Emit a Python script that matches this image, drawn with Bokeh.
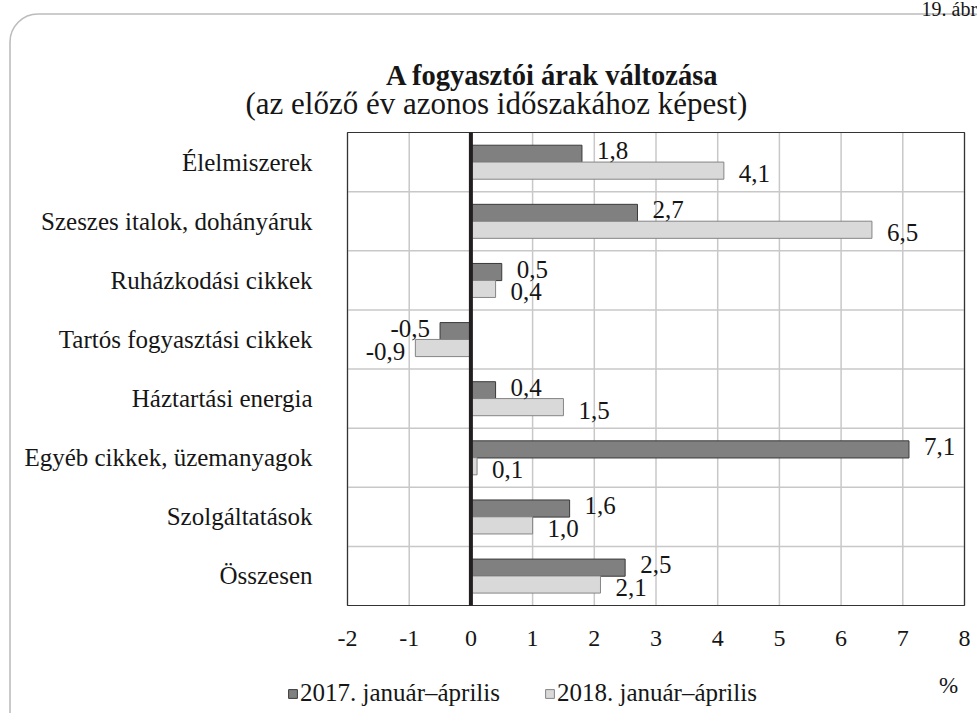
from bokeh.plotting import figure
from bokeh.models import (ColumnDataSource, LabelSet, Label, BoxAnnotation,
                          Legend, LegendItem, Range1d)
from bokeh.transform import dodge
from bokeh.core.properties import value
from bokeh.embed import file_html
from bokeh.resources import INLINE

# ---- data ----
categories = ["Élelmiszerek", "Szeszes italok, dohányáruk", "Ruházkodási cikkek",
              "Tartós fogyasztási cikkek", "Háztartási energia",
              "Egyéb cikkek, üzemanyagok", "Szolgáltatások", "Összesen"]
values_2017 = [1.8, 2.7, 0.5, -0.5, 0.4, 7.1, 1.6, 2.5]
values_2018 = [4.1, 6.5, 0.4, -0.9, 1.5, 0.1, 1.0, 2.1]
series_names = ["2017. január–április", "2018. január–április"]
x_ticks = [-2, -1, 0, 1, 2, 3, 4, 5, 6, 7, 8]
title_text = "A fogyasztói árak változása"
subtitle_text = "(az előző év azonos időszakához képest)"
unit_text = "%"
figure_no = "19. ábra"

FONT = "Liberation Serif"
INK = "#161616"
OFF = 0                      # canvas origin on the picture
W, H = 977, 713
FL, FR, FT, FB = 347, 964, 132, 605   # plot-area edges on the picture (px)

n = len(categories)
x0, x1 = x_ticks[0], x_ticks[-1]
kx = (FR - FL) / (x1 - x0)
ky = (FB - FT) / n

def X(sx):   # picture px -> data x
    return x0 + (sx - FL) / kx

def Y(sy):   # picture px -> data y
    return (FB - sy) / ky

p = figure(width=W, height=H, output_backend="svg", toolbar_location=None,
           x_range=Range1d(X(OFF), X(OFF + W)), y_range=Range1d(Y(OFF + H), Y(OFF)),
           x_axis_location=None, y_axis_location=None,
           min_border=0, background_fill_color="white", border_fill_color="white")
p.grid.visible = False
p.outline_line_color = None

pos = [n - i - 0.5 for i in range(n)]

def fmt(v):
    return f"{v:.1f}".replace(".", ",")

def mk(vals):
    return ColumnDataSource(dict(
        pos=pos, val=vals, txt=[fmt(v) for v in vals],
        xoff=[15 if v >= 0 else -10 for v in vals],
        align=["left" if v >= 0 else "right" for v in vals],
    ))

s17 = mk(values_2017)
s18 = mk(values_2018)

# grid
GRID = "#c8c8c8"
p.segment(x0=x_ticks, y0=[0] * len(x_ticks), x1=x_ticks, y1=[n] * len(x_ticks),
          line_color=GRID, line_width=1.5)
ygrid = list(range(1, n))
p.segment(x0=[x0] * len(ygrid), y0=ygrid, x1=[x1] * len(ygrid), y1=ygrid,
          line_color=GRID, line_width=1.5)
p.quad(left=x0, right=x1, bottom=0, top=n, fill_color=None,
       line_color="#333333", line_width=1.2)

# bars
bh = 0.29
r17 = p.hbar(y=dodge("pos", 0.14), left=0, right="val", height=bh, source=s17,
             fill_color="#808080", line_color="#3a3a3a", line_width=1)
r18 = p.hbar(y=dodge("pos", -0.145), left=0, right="val", height=bh, source=s18,
             fill_color="#d9d9d9", line_color="#858585", line_width=1)

# zero line
p.segment(x0=0, y0=0, x1=0, y1=n, line_color="#231f20", line_width=4)

# value labels
for src, off, yo in ((s17, 0.14, 3), (s18, -0.145, -3)):
    p.add_layout(LabelSet(x="val", y=dodge("pos", off), text="txt", source=src,
                          x_offset="xoff", y_offset=yo, text_align="align",
                          text_baseline="middle", text_font=value(FONT),
                          text_font_size="25px", text_color=INK))

# category labels
cat_src = ColumnDataSource(dict(x=[x0] * n, y=pos, t=categories))
p.add_layout(LabelSet(x="x", y="y", text="t", source=cat_src, x_offset=-35,
                      text_align="right", text_baseline="middle",
                      text_font=value(FONT), text_font_size="25px", text_color=INK))

# x tick labels
tick_src = ColumnDataSource(dict(x=x_ticks, y=[0] * len(x_ticks),
                                 t=[str(t) for t in x_ticks]))
p.add_layout(LabelSet(x="x", y="y", text="t", source=tick_src, y_offset=-33,
                      text_align="center", text_baseline="middle",
                      text_font=value(FONT), text_font_size="24px", text_color=INK))

# legend
legend = Legend(items=[LegendItem(label=series_names[0], renderers=[r17]),
                       LegendItem(label=series_names[1], renderers=[r18])],
                orientation="horizontal", location=(287 - OFF, 6),
                glyph_width=11, glyph_height=11, label_standoff=2, spacing=44,
                padding=0, margin=0, label_text_font=FONT,
                label_text_font_size="25px", label_text_color=INK,
                background_fill_alpha=0, border_line_alpha=0)
p.add_layout(legend)

# texts
p.add_layout(Label(x=X(552), y=Y(75), text=title_text, text_align="center",
                   text_baseline="middle", text_font=FONT, text_font_size="28.5px",
                   text_font_style="bold", text_color=INK))
p.add_layout(Label(x=X(245), y=Y(103), text=subtitle_text, text_align="left",
                   text_baseline="middle", text_font=FONT, text_font_size="31px",
                   text_color=INK))
p.add_layout(Label(x=X(948), y=Y(685), text=unit_text, text_align="center",
                   text_baseline="middle", text_font=FONT, text_font_size="23px",
                   text_color=INK))
p.add_layout(Label(x=X(921), y=Y(8), text=figure_no, text_align="left",
                   text_baseline="alphabetic", text_font=FONT, text_font_size="20px",
                   text_color=INK))

# rounded frame around the chart
p.add_layout(BoxAnnotation(left=X(9.5), right=X(1000), top=Y(13.5), bottom=Y(760),
                           fill_alpha=0, line_color="#222222", line_width=1.6,
                           border_radius=28))

open("out.html", "w").write(file_html(p, INLINE))
